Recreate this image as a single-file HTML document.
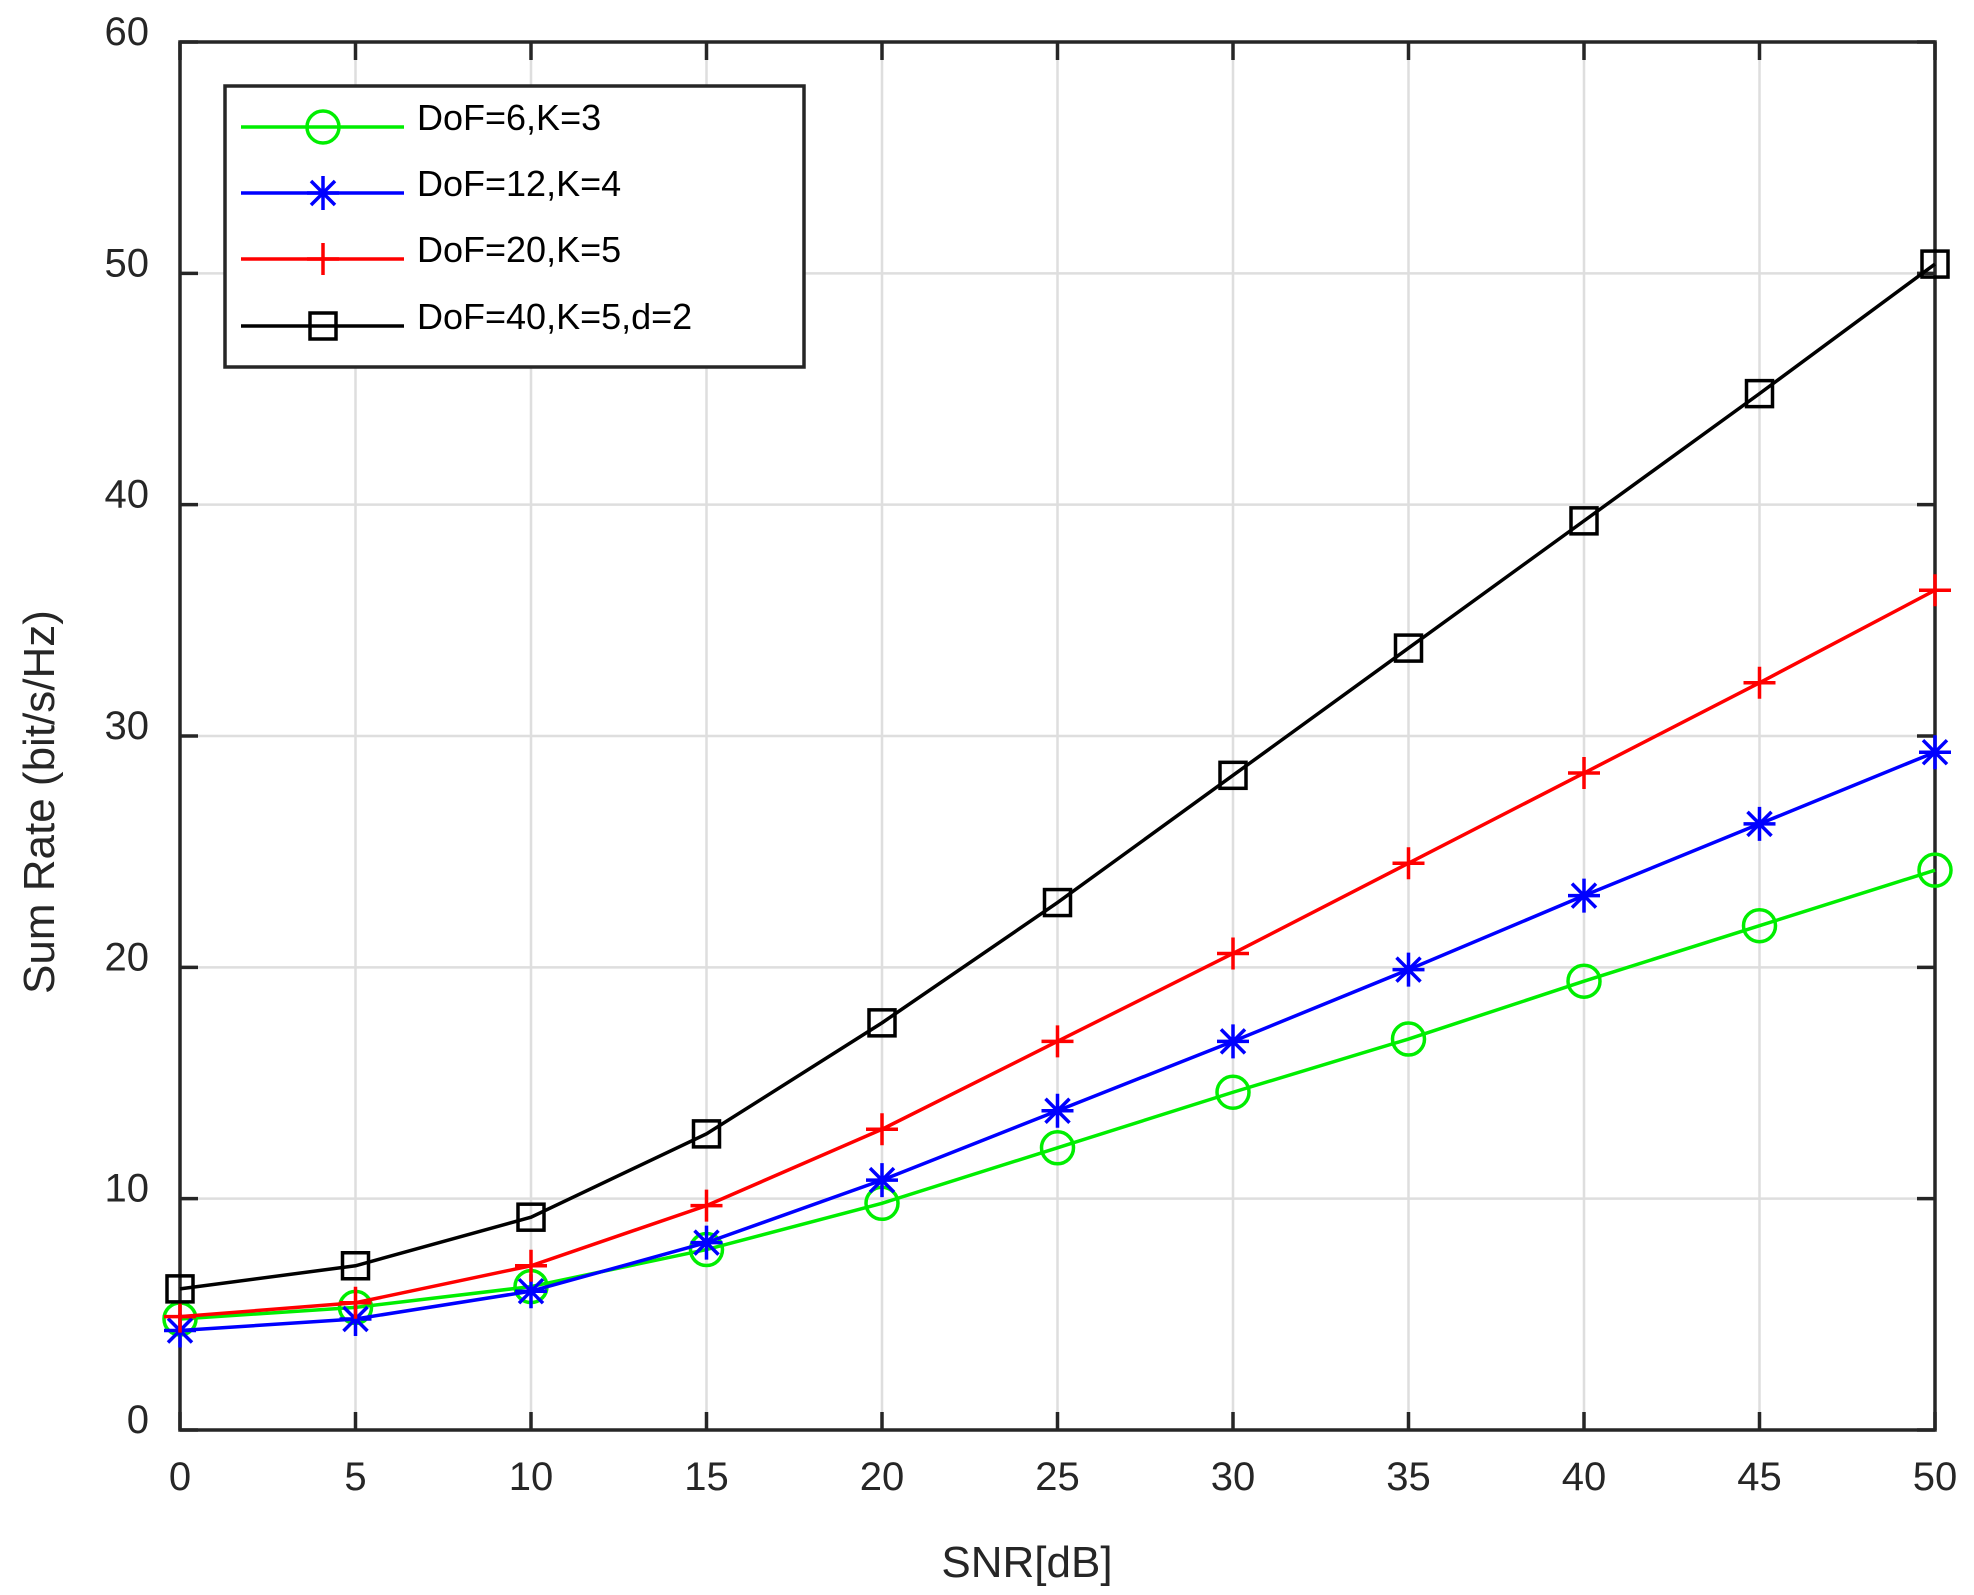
<!DOCTYPE html>
<html><head><meta charset="utf-8"><style>
html,body{margin:0;padding:0;background:#fff;}
svg{display:block;font-family:"Liberation Sans",Arial,sans-serif;}
</style></head><body>
<svg id="s" width="1974" height="1595" viewBox="0 0 1974 1595" xmlns="http://www.w3.org/2000/svg"></svg>
<script>
const X0=180,X1=1935,Y0=1430,YT=42;
const sx=v=>X0+(X1-X0)*v/50, sy=v=>Y0-(Y0-YT)*v/60;
let h='<rect width="1974" height="1595" fill="#fff"/>';
for(let i=0;i<=10;i++){const x=sx(i*5);h+=`<line x1="${x}" y1="${YT}" x2="${x}" y2="${Y0}" stroke="#dedede" stroke-width="2.5"/>`;}
for(let i=0;i<=6;i++){const y=sy(i*10);h+=`<line x1="${X0}" y1="${y}" x2="${X1}" y2="${y}" stroke="#dedede" stroke-width="2.5"/>`;}
for(let i=0;i<=10;i++){const x=sx(i*5);h+=`<line x1="${x}" y1="${Y0}" x2="${x}" y2="${Y0-18}" stroke="#262626" stroke-width="3.5"/><line x1="${x}" y1="${YT}" x2="${x}" y2="${YT+18}" stroke="#262626" stroke-width="3.5"/><text x="${x}" y="1490" font-size="40" text-anchor="middle" fill="#262626">${i*5}</text>`;}
for(let i=0;i<=6;i++){const y=sy(i*10);h+=`<line x1="${X0}" y1="${y}" x2="${X0+18}" y2="${y}" stroke="#262626" stroke-width="3.5"/><line x1="${X1}" y1="${y}" x2="${X1-18}" y2="${y}" stroke="#262626" stroke-width="3.5"/><text x="149" y="${y+3}" font-size="40" text-anchor="end" fill="#262626">${i*10}</text>`;}
h+=`<rect x="${X0}" y="${YT}" width="${X1-X0}" height="${Y0-YT}" fill="none" stroke="#262626" stroke-width="3.5"/>`;
const D={
g:[4.8,5.3,6.2,7.8,9.8,12.2,14.6,16.9,19.4,21.8,24.2],
b:[4.3,4.8,6.0,8.1,10.8,13.8,16.8,19.9,23.1,26.2,29.3],
r:[4.9,5.5,7.1,9.7,13.0,16.8,20.6,24.5,28.4,32.3,36.3],
k:[6.1,7.1,9.2,12.8,17.6,22.8,28.3,33.8,39.3,44.8,50.4]};
const C={g:'#00ee00',b:'#0000ff',r:'#ff0000',k:'#000000'};
function mk(t,x,y){const c=C[t];
 if(t=='g')return `<circle cx="${x}" cy="${y}" r="16" fill="none" stroke="${c}" stroke-width="3.5"/>`;
 if(t=='r')return `<path d="M${x-16} ${y}H${x+16}M${x} ${y-16}V${y+16}" stroke="${c}" stroke-width="3.5"/>`;
 if(t=='b')return `<path d="M${x-16} ${y}H${x+16}M${x} ${y-17}V${y+17}M${x-12} ${y-12}L${x+12} ${y+12}M${x-12} ${y+12}L${x+12} ${y-12}" stroke="${c}" stroke-width="3.5"/>`;
 return `<rect x="${x-13}" y="${y-13}" width="26" height="26" fill="none" stroke="${c}" stroke-width="3.5"/>`;}
for(const t of ['g','b','r','k']){const p=D[t].map((v,i)=>[sx(i*5),sy(v)]);
 h+=`<polyline points="${p.map(a=>a.join(',')).join(' ')}" fill="none" stroke="${C[t]}" stroke-width="3.5"/>`;
 p.forEach(a=>h+=mk(t,a[0],a[1]));}
h+=`<rect x="225" y="86" width="579" height="281" fill="#fff" stroke="#262626" stroke-width="3.5"/>`;
const L=[['g','DoF=6,K=3',127],['b','DoF=12,K=4',193],['r','DoF=20,K=5',259],['k','DoF=40,K=5,d=2',326]];
for(const [t,s,y] of L){h+=`<line x1="241" y1="${y}" x2="404" y2="${y}" stroke="${C[t]}" stroke-width="3.5"/>`+mk(t,323,y)+`<text x="417" y="${y+3}" font-size="36" fill="#000">${s}</text>`;}
h+=`<text x="1027" y="1577" font-size="44" text-anchor="middle" fill="#262626">SNR[dB]</text>`;
h+=`<text transform="translate(54,802) rotate(-90)" font-size="44" text-anchor="middle" fill="#262626">Sum Rate (bit/s/Hz)</text>`;
document.getElementById('s').innerHTML=h;
</script>
</body></html>
